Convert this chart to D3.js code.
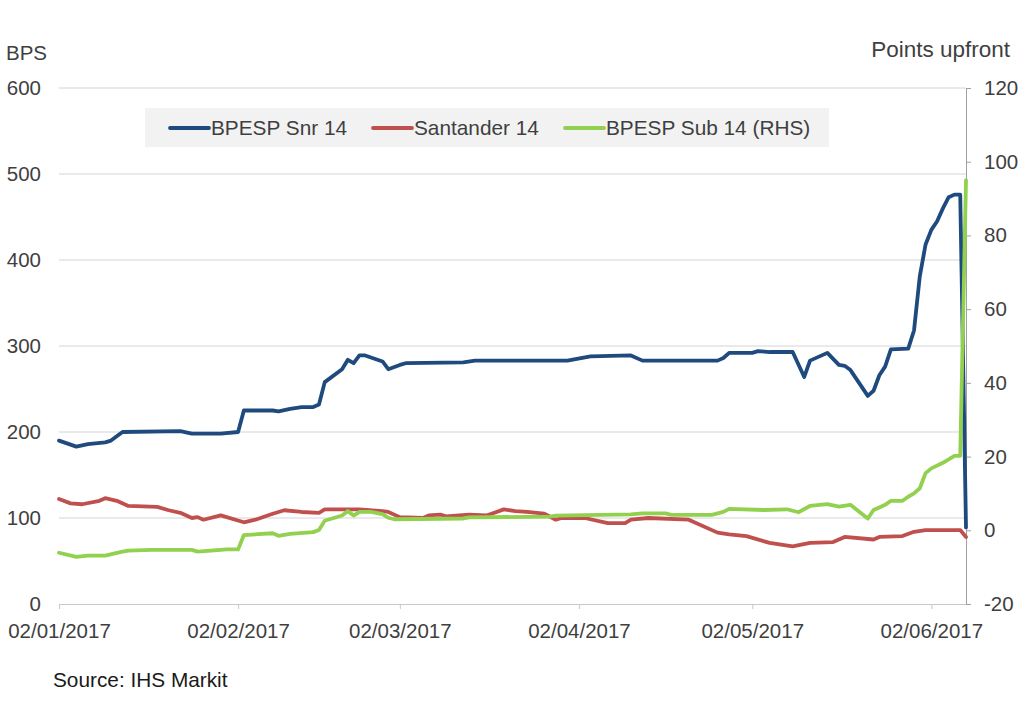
<!DOCTYPE html>
<html>
<head>
<meta charset="utf-8">
<script src="https://cdn.jsdelivr.net/npm/d3@7"></script>
<style>
    body { margin: 0; background: #fff; }
    text { font-family: "Liberation Sans", Arial, sans-serif; }
</style>
</head>
<body>
<script>
// BPESP Snr 14 (left axis, bps)
const snrDates = ['2017-01-02', '2017-01-05', '2017-01-07', '2017-01-10', '2017-01-11', '2017-01-13', '2017-01-23', '2017-01-25',
    '2017-01-30', '2017-02-02', '2017-02-03', '2017-02-08', '2017-02-09', '2017-02-11', '2017-02-13', '2017-02-15', '2017-02-16',
    '2017-02-17', '2017-02-20', '2017-02-21', '2017-02-22', '2017-02-23', '2017-02-24', '2017-02-27', '2017-02-28', '2017-03-02',
    '2017-03-03', '2017-03-13', '2017-03-15', '2017-03-31', '2017-04-04', '2017-04-11', '2017-04-13', '2017-04-26', '2017-04-27',
    '2017-04-28', '2017-05-02', '2017-05-03', '2017-05-05', '2017-05-09', '2017-05-11', '2017-05-12', '2017-05-15', '2017-05-17',
    '2017-05-18', '2017-05-19', '2017-05-22', '2017-05-23', '2017-05-24', '2017-05-25', '2017-05-26', '2017-05-29', '2017-05-30',
    '2017-05-31', '2017-06-01', '2017-06-02', '2017-06-03', '2017-06-04', '2017-06-05', '2017-06-06', '2017-06-07', '2017-06-08']
const snrValues = [190, 183, 186, 188, 190, 200, 201, 198,
    198, 200, 225, 225, 224, 227, 229, 229, 232,
    258, 273, 284, 280, 289, 289, 282, 273, 278,
    280, 281, 283, 283, 288, 289, 283, 283, 286,
    292, 292, 294, 293, 293, 264, 283, 292, 278,
    277, 272, 242, 248, 266, 276, 296, 297, 318,
    381, 418, 435, 445, 460, 473, 476, 476, 89]

// Santander 14 (left axis, bps)
const sanDates = ['2017-01-02', '2017-01-04', '2017-01-06', '2017-01-09', '2017-01-10', '2017-01-12', '2017-01-14', '2017-01-19',
    '2017-01-21', '2017-01-23', '2017-01-25', '2017-01-26', '2017-01-27', '2017-01-30', '2017-02-03', '2017-02-05', '2017-02-08',
    '2017-02-10', '2017-02-13', '2017-02-16', '2017-02-17', '2017-02-23', '2017-02-27', '2017-02-28', '2017-03-02', '2017-03-06',
    '2017-03-07', '2017-03-09', '2017-03-10', '2017-03-14', '2017-03-17', '2017-03-20', '2017-03-22', '2017-03-24', '2017-03-27',
    '2017-03-29', '2017-03-30', '2017-04-03', '2017-04-07', '2017-04-10', '2017-04-11', '2017-04-14', '2017-04-21', '2017-04-26',
    '2017-04-28', '2017-05-01', '2017-05-05', '2017-05-09', '2017-05-12', '2017-05-16', '2017-05-18', '2017-05-23', '2017-05-24',
    '2017-05-28', '2017-05-30', '2017-06-01', '2017-06-07', '2017-06-08']
const sanValues = [122, 117, 116, 120, 123, 120, 114, 113,
    109, 106, 100, 101, 98, 103, 95, 98, 105,
    109, 107, 106, 110, 110, 108, 107, 101, 100,
    103, 104, 102, 104, 103, 110, 108, 107, 105,
    98, 100, 100, 94, 94, 98, 100, 98, 83,
    81, 79, 71, 67, 71, 72, 78, 75, 78,
    79, 84, 86, 86, 78]

// BPESP Sub 14 (right axis, points upfront)
const subDates = ['2017-01-02', '2017-01-05', '2017-01-07', '2017-01-10', '2017-01-13', '2017-01-14', '2017-01-18', '2017-01-25',
    '2017-01-26', '2017-01-30', '2017-01-31', '2017-02-02', '2017-02-03', '2017-02-08', '2017-02-09', '2017-02-11', '2017-02-15',
    '2017-02-16', '2017-02-17', '2017-02-20', '2017-02-21', '2017-02-22', '2017-02-23', '2017-02-25', '2017-02-27', '2017-02-28',
    '2017-03-01', '2017-03-13', '2017-03-14', '2017-03-28', '2017-03-29', '2017-04-11', '2017-04-13', '2017-04-17', '2017-04-18',
    '2017-04-25', '2017-04-27', '2017-04-28', '2017-05-04', '2017-05-08', '2017-05-10', '2017-05-12', '2017-05-15', '2017-05-17',
    '2017-05-19', '2017-05-22', '2017-05-23', '2017-05-24', '2017-05-25', '2017-05-26', '2017-05-28', '2017-05-29', '2017-05-30',
    '2017-05-31', '2017-06-01', '2017-06-02', '2017-06-04', '2017-06-06', '2017-06-07', '2017-06-08']
const subValues = [-6.1, -7.2, -6.9, -6.9, -5.8, -5.5, -5.3, -5.3,
    -5.8, -5.3, -5.2, -5.2, -1.3, -0.8, -1.5, -1.0, -0.5,
    0.1, 2.6, 4.0, 5.2, 4.0, 5.0, 5.0, 4.4, 3.4,
    3.0, 3.2, 3.5, 3.7, 4.0, 4.3, 4.6, 4.6, 4.2,
    4.2, 5.0, 5.8, 5.5, 5.7, 4.9, 6.6, 7.1, 6.4,
    6.9, 3.2, 5.5, 6.2, 6.9, 8.0, 8.0, 9.1, 10.0,
    11.4, 15.5, 16.8, 18.3, 20.2, 20.2, 95]

const leftTicks = [0, 100, 200, 300, 400, 500, 600]
const rightTicks = [-20, 0, 20, 40, 60, 80, 100, 120]
const xTicks = ['2017-01-02', '2017-02-02', '2017-03-02', '2017-04-02', '2017-05-02', '2017-06-02']
const seriesNames = ['BPESP Snr 14', 'Santander 14', 'BPESP Sub 14 (RHS)']
const seriesColors = ['#1f4a7e', '#c0504d', '#92d050']

const parse = d3.timeParse('%Y-%m-%d')
const fmt = d3.timeFormat('%d/%m/%Y')

const width = 1024
const height = 708
const plotLeft = 59, plotRight = 966, plotTop = 88, plotBottom = 604

const svg = d3.select('body')
    .append('svg')
    .attr('width', width)
    .attr('height', height)

const x = d3.scaleTime().domain([parse('2017-01-02'), parse('2017-06-08')]).range([plotLeft, plotRight])
const yL = d3.scaleLinear().domain([0, 600]).range([plotBottom, plotTop])
const yR = d3.scaleLinear().domain([-20, 120]).range([plotBottom, plotTop])

// gridlines (left axis)
svg.append('g')
    .selectAll('line')
    .data(leftTicks.filter(d => d > 0))
    .enter()
    .append('line')
    .attr('x1', plotLeft)
    .attr('x2', plotRight)
    .attr('y1', d => yL(d))
    .attr('y2', d => yL(d))
    .attr('stroke', '#d4d4d4')
    .attr('stroke-width', 1)

// left axis, labels only
let gL = svg.append('g')
    .attr('transform', `translate(${plotLeft},0)`)
    .call(d3.axisLeft(yL).tickValues(leftTicks).tickSize(0).tickPadding(18))
gL.select('.domain').remove()
gL.selectAll('text').attr('font-size', '20.5px').attr('fill', '#3f3f3f')
    .attr('font-family', '"Liberation Sans", Arial, sans-serif')

// bottom axis
let gX = svg.append('g')
    .attr('transform', `translate(0,${plotBottom})`)
    .call(d3.axisBottom(x).tickValues(xTicks.map(parse)).tickFormat(fmt).tickSize(5).tickPadding(14))
gX.select('.domain').attr('stroke', '#c8c8c8').attr('d', `M${plotLeft},0.5H${plotRight}`)
gX.selectAll('line').attr('stroke', '#c8c8c8')
gX.selectAll('text').attr('font-size', '20.5px').attr('fill', '#3f3f3f')
    .attr('font-family', '"Liberation Sans", Arial, sans-serif')

// right axis (plain hyphen for negatives, like the original)
let gR = svg.append('g')
    .attr('transform', `translate(${plotRight},0)`)
    .call(d3.axisRight(yR).tickValues(rightTicks).tickFormat(d => String(d))
        .tickSize(5).tickSizeOuter(0).tickPadding(13))
gR.select('.domain').attr('stroke', '#a0a0a0')
gR.selectAll('line').attr('stroke', '#a0a0a0')
gR.selectAll('text').attr('font-size', '20.5px').attr('fill', '#3f3f3f')
    .attr('font-family', '"Liberation Sans", Arial, sans-serif')

// lines
let makeSeries = (dates, values) => dates.map((d, i) => ({ date: parse(d), value: values[i] }))
let lineL = d3.line().x(d => x(d.date)).y(d => yL(d.value))
let lineR = d3.line().x(d => x(d.date)).y(d => yR(d.value))

let series = [
    { data: makeSeries(snrDates, snrValues), line: lineL, color: seriesColors[0] },
    { data: makeSeries(sanDates, sanValues), line: lineL, color: seriesColors[1] },
    { data: makeSeries(subDates, subValues), line: lineR, color: seriesColors[2] }
]

svg.selectAll('.series')
    .data(series)
    .enter()
    .append('path')
    .attr('class', 'series')
    .attr('d', s => s.line(s.data))
    .attr('fill', 'none')
    .attr('stroke', s => s.color)
    .attr('stroke-width', 3.8)
    .attr('stroke-linejoin', 'round')
    .attr('stroke-linecap', 'round')

// legend
let legend = svg.append('g')
legend.append('rect')
    .attr('x', 145)
    .attr('y', 108)
    .attr('width', 684)
    .attr('height', 39)
    .attr('fill', '#f2f2f2')

let legendX = [170, 373, 565]
let items = legend.selectAll('.item')
    .data(seriesNames)
    .enter()
    .append('g')
    .attr('class', 'item')
    .attr('transform', (d, i) => `translate(${legendX[i]},128)`)
items.append('line')
    .attr('x1', 0)
    .attr('x2', 39)
    .attr('stroke', (d, i) => seriesColors[i])
    .attr('stroke-width', 3.8)
    .attr('stroke-linecap', 'round')
items.append('text')
    .text(d => d)
    .attr('x', 41)
    .attr('dy', '0.35em')
    .attr('font-size', '20.8px')
    .attr('fill', '#3f3f3f')

// axis titles and source
svg.append('text')
    .text('BPS')
    .attr('x', 6)
    .attr('y', 60)
    .attr('font-size', '20.5px')
    .attr('fill', '#3f3f3f')

svg.append('text')
    .text('Points upfront')
    .attr('x', 1010)
    .attr('y', 57)
    .attr('text-anchor', 'end')
    .attr('font-family', 'Lato, sans-serif')
    .attr('font-size', '22.5px')
    .attr('fill', '#3f3f3f')

svg.append('text')
    .text('Source: IHS Markit')
    .attr('x', 53)
    .attr('y', 687)
    .attr('font-size', '20.8px')
    .attr('fill', '#1a1a1a')
</script>
</body>
</html>
